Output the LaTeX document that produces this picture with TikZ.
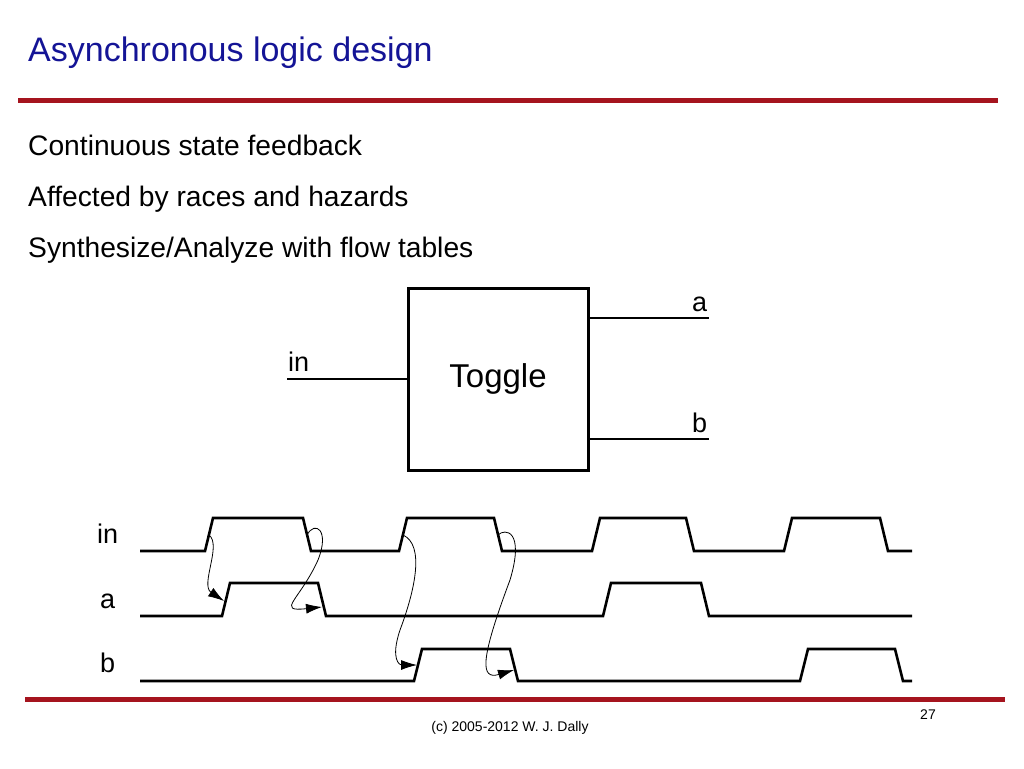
\documentclass[tikz,border=0pt]{standalone}
\usepackage{fontspec}
\setmainfont{Liberation Sans}
\usetikzlibrary{arrows.meta}
\begin{document}
\begin{tikzpicture}[x=1pt,y=-1pt,
  wave/.style={line width=2.6pt,line join=miter},
  wire/.style={line width=2pt},
  cause/.style={line width=0.8pt,-{Latex[length=16pt,width=10pt]}},
  txt/.style={anchor=base west,inner sep=0pt,font=\fontsize{28.2}{32}\selectfont},
  lbl/.style={anchor=base west,inner sep=0pt,font=\fontsize{27}{32}\selectfont}]
\useasboundingbox (0,0) rectangle (1024,768);
\definecolor{ttl}{RGB}{20,20,150}
\definecolor{rl}{RGB}{165,20,30}
\node[anchor=base west,inner sep=0pt,text=ttl,font=\fontsize{34}{38}\selectfont] (title) at (28,61) {Asynchronous logic design};
\draw[rl,line width=5pt] (18,100) -- (998,100);
\node[txt] (l1) at (28,155) {Continuous state feedback};
\node[txt] (l2) at (28,206) {Affected by races and hazards};
\node[txt] (l3) at (28,257) {Synthesize/Analyze with flow tables};
% toggle box
\node[draw,line width=3pt,minimum width=180pt,minimum height=182pt,inner sep=0pt,font=\fontsize{33}{38}\selectfont] (tog) at (498,379) {Toggle};
\coordinate (ia) at (287,379);
\coordinate (oa) at (709,318);
\coordinate (ob) at (709,439);
\draw[wire] (ia) -- (tog.west|-ia);
\draw[wire] (tog.east|-oa) -- (oa);
\draw[wire] (tog.east|-ob) -- (ob);
\node[lbl] (tin) at (288,371) {in};
\node[lbl] (ta) at (692,311) {a};
\node[lbl] (tb) at (692,432) {b};
% waveform labels
\node[lbl] (win) at (97,543) {in};
\node[lbl] (wa) at (100,608) {a};
\node[lbl] (wb) at (100,672) {b};
% waves
\draw[wave] (140,551) -- (205,551) -- (213,518) -- (303,518) -- (311,551) -- (399,551) -- (407,518) -- (494,518) -- (502,551)
 -- (592,551) -- (600,518) -- (686,518) -- (694,551) -- (784,551) -- (792,518) -- (880,518) -- (888,551) -- (912,551);
\draw[wave] (140,616) -- (222,616) -- (230,583) -- (318,583) -- (326,616) -- (603,616) -- (611,583) -- (701,583) -- (709,616) -- (912,616);
\draw[wave] (140,681) -- (414,681) -- (422,649) -- (510,649) -- (518,681) -- (800,681) -- (808,649) -- (895,649) -- (903,681) -- (912,681);
% causal arrows
\coordinate (c1s) at (209,535); \coordinate (c1e) at (224,601);
\draw[cause] (c1s) .. controls (222,545) and (200,585) .. (c1e);
\coordinate (c2s) at (307,535); \coordinate (c2e) at (322,607);
\draw[cause] (c2s) .. controls (315,520) and (330,530) .. (318,560) .. controls (300,600) and (275,612) .. (c2e);
\coordinate (c3s) at (403,535); \coordinate (c3e) at (417,665);
\draw[cause] (c3s) .. controls (425,545) and (415,590) .. (400,630) .. controls (390,660) and (400,665) .. (c3e);
\coordinate (c4s) at (498,535); \coordinate (c4e) at (514,670);
\draw[cause] (c4s) .. controls (505,528) and (525,530) .. (510,580) .. controls (480,660) and (480,680) .. (c4e);
\draw[rl,line width=5pt] (25,699) -- (1005,699);
\node[anchor=base,inner sep=0pt,font=\fontsize{14}{16}\selectfont] (pg) at (928,719) {27};
\node[anchor=base,inner sep=0pt,font=\fontsize{14}{16}\selectfont] (cr) at (510,731) {(c) 2005-2012 W. J. Dally};
\end{tikzpicture}
\end{document}
